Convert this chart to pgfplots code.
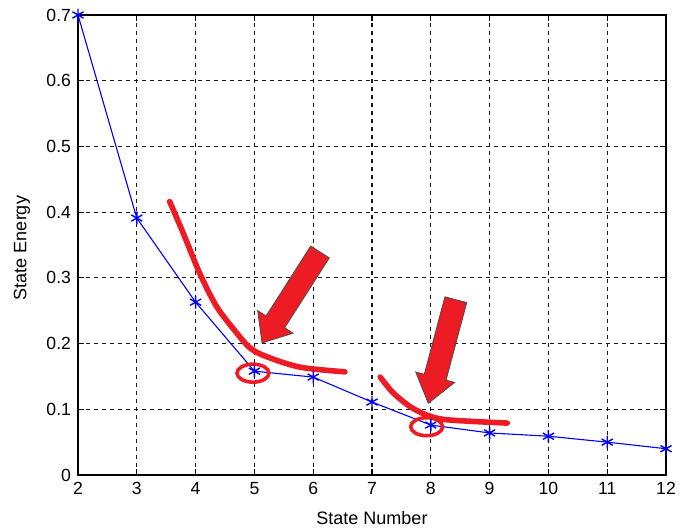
\documentclass[border=0pt]{standalone}
\usepackage{fontspec}
\setmainfont{Liberation Sans}
\usepackage{pgfplots}
\pgfplotsset{compat=1.18}
\definecolor{annred}{RGB}{237,28,36}
\begin{document}
\begin{tikzpicture}
\begin{axis}[
  scale only axis, width=294pt, height=230pt,
  xmin=2, xmax=12, ymin=0, ymax=0.7,
  xtick={2,3,4,5,6,7,8,9,10,11,12},
  ytick={0,0.1,0.2,0.3,0.4,0.5,0.6,0.7},
  scaled y ticks=false,
  yticklabel style={/pgf/number format/fixed, /pgf/number format/precision=1},
  /pgf/number format/assume math mode=true,
  ticklabel style={font=\fontsize{8.8}{10}\selectfont},
  grid=major,
  major grid style={black!90, line width=0.6pt, dash pattern=on 2pt off 2pt},
  axis line style={black, line width=0.8pt},
  tick align=inside, major tick length=3pt,
  tick style={black, line width=0.6pt},
  xlabel={State Number}, ylabel={State Energy},
  label style={font=\fontsize{9}{11}\selectfont},
  x label style={at={(axis description cs:0.5,0)}, anchor=center, yshift=-21.5pt},
  y label style={at={(axis description cs:0,0.5)}, anchor=center, yshift=28pt, xshift=-1.5pt},
  clip=false,
]
\addplot[blue, line width=0.55pt, mark=asterisk, mark size=3.2pt, mark options={solid, line width=0.7pt}]
  coordinates {(2,0.70) (3,0.391) (4,0.263) (5,0.158) (6,0.149) (7,0.111) (8,0.076) (9,0.064) (10,0.059) (11,0.050) (12,0.040)};

% annotations
\addplot[annred, line width=2.8pt, smooth, line cap=round, no markers]
  coordinates {(3.56,0.416) (3.79,0.368) (4.07,0.307) (4.36,0.256) (4.70,0.216) (4.93,0.193) (5.21,0.180) (5.78,0.164) (6.54,0.157)};
\addplot[annred, line width=2.8pt, smooth, line cap=round, no markers]
  coordinates {(7.14,0.149) (7.36,0.125) (7.65,0.104) (7.94,0.091) (8.28,0.084) (9.30,0.079)};
\draw[annred, line width=1.8pt] (axis cs:4.976,0.155) ellipse[x radius=8pt, y radius=4.5pt];
\draw[annred, line width=1.8pt] (axis cs:7.93,0.0735) ellipse[x radius=8pt, y radius=4.5pt];
\filldraw[fill=annred, draw=black!70, line width=0.4pt]
  (axis cs:6.274,0.3304) -- (axis cs:5.515,0.2240) -- (axis cs:5.658,0.2158) -- (axis cs:5.129,0.2009)
  -- (axis cs:5.056,0.2502) -- (axis cs:5.199,0.2420) -- (axis cs:5.957,0.3484) -- cycle;
\filldraw[fill=annred, draw=black!70, line width=0.4pt]
  (axis cs:8.611,0.2624) -- (axis cs:8.260,0.1444) -- (axis cs:8.406,0.1409) -- (axis cs:7.957,0.1091)
  -- (axis cs:7.743,0.1568) -- (axis cs:7.889,0.1533) -- (axis cs:8.240,0.2712) -- cycle;
\end{axis}
\pgfresetboundingbox
\path ([shift={(-39pt,-27.5pt)}]current axis.south west) rectangle ([shift={(9.5pt,7.5pt)}]current axis.north east);
\end{tikzpicture}
\end{document}
